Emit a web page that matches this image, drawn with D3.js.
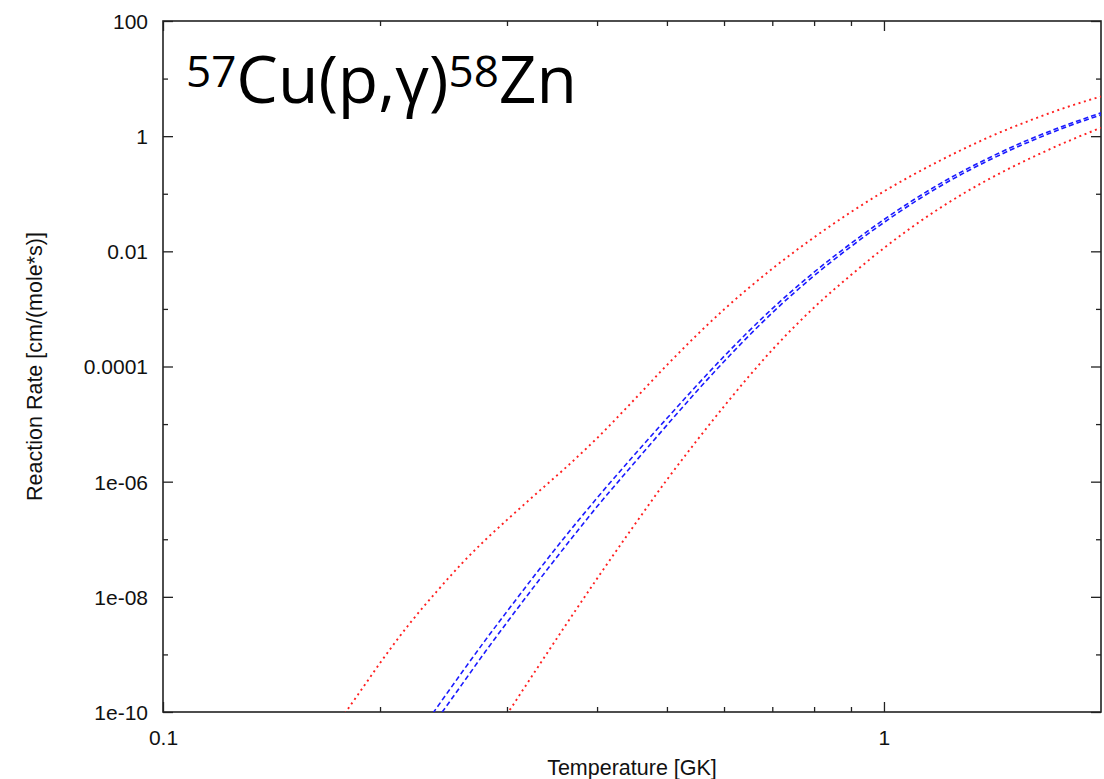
<!DOCTYPE html>
<html>
<head>
<meta charset="utf-8">
<script src="https://cdn.jsdelivr.net/npm/d3@7"></script>
<style>
  html, body { margin: 0; padding: 0; background: #fff; }
  svg { display: block; }
</style>
</head>
<body>
<div id="chart"></div>
<script>
// ---- Data ----
const tempsGK = [0.17, 0.18, 0.19, 0.2, 0.22, 0.24, 0.26, 0.28, 0.3, 0.33, 0.36, 0.4, 0.45, 0.5,
                 0.55, 0.6, 0.7, 0.8, 0.9, 1.0, 1.2, 1.4, 1.6, 1.8, 2.0];

// upper limit (red dotted)
const rateUpper = [3.72e-11, 1.07e-10, 2.82e-10, 7.08e-10, 3.47e-9, 1.26e-8, 3.85e-8, 9.77e-8, 2.17e-7,
                   6.32e-7, 1.65e-6, 5.70e-6, 2.62e-5, 1.06e-4, 3.51e-4, 9.77e-4, 4.98e-3, 1.75e-2,
                   4.81e-2, 0.110, 0.384, 0.966, 1.91, 3.24, 4.89];

// recommended band, upper edge (blue dashed)
const rateBandHigh = [null, null, null, null, 2.57e-11, 1.21e-10, 4.94e-10, 1.77e-9, 5.57e-9, 2.64e-8,
                      1.05e-7, 5.21e-7, 2.87e-6, 1.26e-5, 4.69e-5, 1.50e-4, 1.01e-3, 4.34e-3, 1.37e-2,
                      3.56e-2, 0.153, 0.423, 0.904, 1.60, 2.54];

// recommended band, lower edge (blue dashed)
const rateBandLow = [null, null, null, null, 1.58e-11, 7.48e-11, 3.05e-10, 1.12e-9, 3.60e-9, 1.74e-8,
                     7.08e-8, 3.69e-7, 2.08e-6, 9.59e-6, 3.72e-5, 1.22e-4, 8.57e-4, 3.78e-3, 1.21e-2,
                     3.17e-2, 0.138, 0.385, 0.824, 1.48, 2.34];

// lower limit (red dotted)
const rateLower = [null, null, null, null, null, null, null, 2.40e-11, 9.12e-11, 5.64e-10, 2.93e-9, 2.07e-8,
                   1.72e-7, 1.08e-6, 5.16e-6, 2.03e-5, 1.95e-4, 1.06e-3, 3.87e-3, 1.14e-2, 5.81e-2,
                   0.181, 0.420, 0.817, 1.40];

const yMajorTicks = [100, 1, 0.01, 1e-4, 1e-6, 1e-8, 1e-10];
const yMajorLabels = ["100", "1", "0.01", "0.0001", "1e-06", "1e-08", "1e-10"];
const yMinorTicks = [10, 0.1, 1e-3, 1e-5, 1e-7, 1e-9];
const xMajorTicks = [0.1, 1];
const xMajorLabels = ["0.1", "1"];
const xMinorTicks = [0.2, 0.3, 0.4, 0.5, 0.6, 0.7, 0.8, 0.9];

// ---- Layout ----
const W = 1104, H = 779;
const m = { left: 163, top: 21, right: 3, bottom: 67 };
const pw = W - m.left - m.right, ph = H - m.top - m.bottom;

const svg = d3.select("#chart").append("svg").attr("width", W).attr("height", H);
const g = svg.append("g").attr("transform", `translate(${m.left},${m.top})`);

const x = d3.scaleLog().domain([0.1, 2.0]).range([0, pw]);
const y = d3.scaleLog().domain([1e-10, 100]).range([ph, 0]);

svg.append("defs").append("clipPath").attr("id", "clip")
  .append("rect").attr("width", pw).attr("height", ph);

const tickFont = "'Liberation Sans', Arial, Helvetica, sans-serif";

// axes with mirrored inside ticks
function yAxis(sel, ticks, labels, len, side) {
  const ax = (side === "left" ? d3.axisLeft(y) : d3.axisRight(y))
    .tickValues(ticks).tickSizeInner(-len).tickSizeOuter(0)
    .tickFormat((d, i) => labels ? labels[i] : "");
  sel.call(ax);
}
function xAxis(sel, ticks, labels, len, side) {
  const ax = (side === "bottom" ? d3.axisBottom(x) : d3.axisTop(x))
    .tickValues(ticks).tickSizeInner(-len).tickSizeOuter(0)
    .tickFormat((d, i) => labels ? labels[i] : "");
  sel.call(ax);
}

const axes = g.append("g").attr("class", "axes");
const yl = axes.append("g"); yAxis(yl, yMajorTicks, yMajorLabels, 10, "left");
const ylm = axes.append("g"); yAxis(ylm, yMinorTicks, null, 5, "left");
const yr = axes.append("g").attr("transform", `translate(${pw},0)`); yAxis(yr, yMajorTicks, null, 10, "right");
const yrm = axes.append("g").attr("transform", `translate(${pw},0)`); yAxis(yrm, yMinorTicks, null, 5, "right");
const xb = axes.append("g").attr("transform", `translate(0,${ph})`); xAxis(xb, xMajorTicks, xMajorLabels, 10, "bottom");
const xbm = axes.append("g").attr("transform", `translate(0,${ph})`); xAxis(xbm, xMinorTicks, null, 5, "bottom");
const xt = axes.append("g"); xAxis(xt, xMajorTicks, null, 10, "top");
const xtm = axes.append("g"); xAxis(xtm, xMinorTicks, null, 5, "top");

axes.selectAll(".domain").remove();
axes.selectAll(".tick line").attr("stroke", "#222").attr("stroke-width", 1.3);
axes.selectAll(".tick text").attr("font-family", tickFont).attr("font-size", 21).attr("fill", "#111");
yl.selectAll(".tick text").attr("x", -15).attr("dy", "0.35em");
xb.selectAll(".tick text").attr("y", 18).attr("dy", "0.71em");

// frame
g.append("rect").attr("width", pw).attr("height", ph)
  .attr("fill", "none").attr("stroke", "#222").attr("stroke-width", 1.6);

// series
const series = [
  { vals: rateUpper, color: "#ff2020", dash: "2,3.6", width: 1.9 },
  { vals: rateLower, color: "#ff2020", dash: "2,3.6", width: 1.9 },
  { vals: rateBandHigh, color: "#1a1aff", dash: "5,3", width: 1.6 },
  { vals: rateBandLow, color: "#1a1aff", dash: "5,3", width: 1.6 }
];
const line = d3.line()
  .defined(d => d[1] != null)
  .x(d => x(d[0])).y(d => y(d[1]))
  .curve(d3.curveMonotoneX);

const plot = g.append("g").attr("clip-path", "url(#clip)");
series.forEach(s => {
  plot.append("path")
    .datum(tempsGK.map((t, i) => [t, s.vals[i]]))
    .attr("d", line)
    .attr("fill", "none")
    .attr("stroke", s.color)
    .attr("stroke-width", s.width)
    .attr("stroke-dasharray", s.dash);
});

// axis titles
svg.append("text")
  .attr("x", m.left + pw / 2).attr("y", 775)
  .attr("text-anchor", "middle")
  .attr("font-family", tickFont).attr("font-size", 21.5).attr("fill", "#111")
  .text("Temperature [GK]");

svg.append("text")
  .attr("transform", `translate(42,${m.top + ph / 2}) rotate(-90)`)
  .attr("text-anchor", "middle")
  .attr("font-family", tickFont).attr("font-size", 21.5).attr("fill", "#111")
  .text("Reaction Rate [cm/(mole*s)]");

// reaction title
const title = svg.append("text")
  .attr("x", 186).attr("y", 103)
  .attr("font-family", "'Open Sans', 'Noto Sans', sans-serif")
  .attr("fill", "#000");
title.append("tspan").attr("font-size", 44).attr("dy", -16).text("57");
title.append("tspan").attr("font-size", 66).attr("dy", 16).text("Cu(p,γ)");
title.append("tspan").attr("font-size", 44).attr("dy", -16).text("58");
title.append("tspan").attr("font-size", 66).attr("dy", 16).text("Zn");
</script>
</body>
</html>
